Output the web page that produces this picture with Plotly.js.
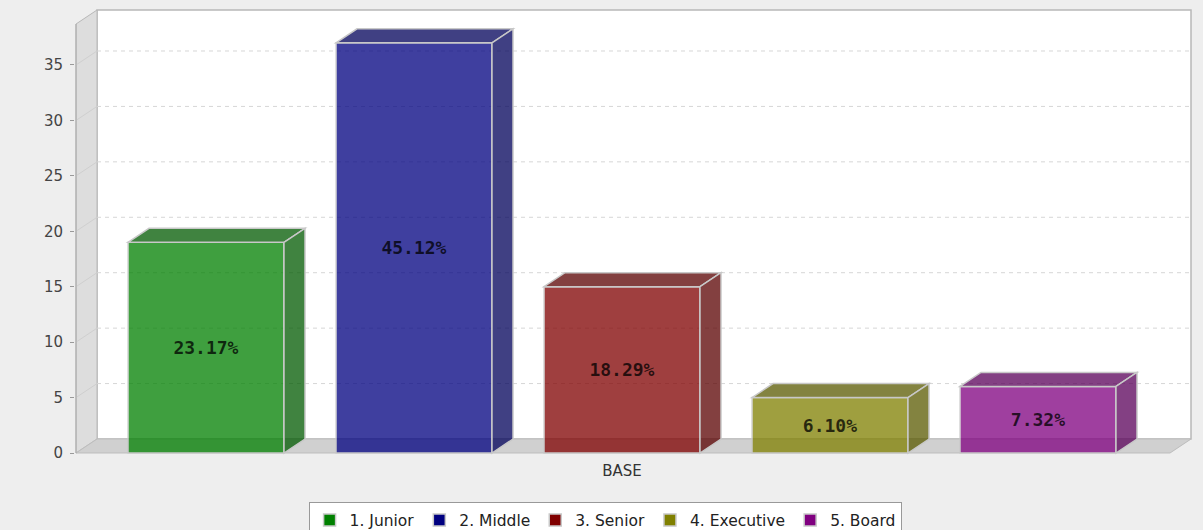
<!DOCTYPE html>
<html><head><meta charset="utf-8">
<script src="https://cdn.plot.ly/plotly-3.0.1.min.js"></script>
<style>html,body{margin:0;padding:0;background:#eeeeee;} #chart{width:1203px;height:530px;}</style>
</head><body><div id="chart"></div>
<script>
// ---- data ----
const categories = ['BASE'];
const seriesNames = ['1. Junior', '2. Middle', '3. Senior', '4. Executive', '5. Board'];
const seriesValues = [19, 37, 15, 5, 6];

// ---- styles ----
const baseColors = [[0,128,0],[0,0,128],[128,0,0],[128,128,0],[128,0,128]];
const alpha = 0.75;
const barWidth = 0.75;

// ---- geometry (axis units) ----
const pxX = 208, pxY = 11.086;
const plotL = 75, plotR = 1194, plotT = 6, plotB = 456;
const x0px = 206, y0px = 453;
const xLo = (plotL - x0px) / pxX, xHi = (plotR - x0px) / pxX;
const yLo = -(plotB - y0px) / pxY, yHi = (y0px - plotT) / pxY;
const xFL = (76 - x0px) / pxX;          // front-left of plot
const wallRight = (1191 - x0px) / pxX;  // back-right
const depthX = 21 / pxX, depthY = 14 / pxY;
const frontTop = (y0px - 24) / pxY;
const frontRight = wallRight - depthX;

const total = seriesValues.reduce((a, b) => a + b, 0);
const rgba = (c, a) => `rgba(${c[0]},${c[1]},${c[2]},${a})`;
const darker = c => c.map(v => Math.floor(v * 0.7));

const tickVals = [];
for (let v = 0; v <= frontTop; v += 5) tickVals.push(v);

const traces = seriesNames.map((name, i) => ({
  type: 'bar', name: name, x: [i], y: [seriesValues[i]], width: barWidth,
  marker: { color: rgba(baseColors[i], 1), opacity: alpha, line: { color: '#c8c8c8', width: 1.5 } },
  text: [(seriesValues[i] / total * 100).toFixed(2) + '%'],
  textposition: 'inside', insidetextanchor: 'middle', textangle: 0, constraintext: 'none',
  textfont: { family: 'DejaVu Sans Mono', size: 18, color: 'rgba(0,0,0,0.75)', weight: 'bold' },
  hoverinfo: 'none'
}));

const shapes = [];
// back wall
shapes.push({ type: 'rect', layer: 'below', xref: 'x', yref: 'y',
  x0: xFL + depthX, x1: wallRight, y0: depthY, y1: frontTop + depthY,
  fillcolor: '#ffffff', line: { color: '#b8b8b8', width: 1.5 } });
// left wall
shapes.push({ type: 'path', layer: 'below', xref: 'x', yref: 'y',
  path: `M${xFL},0 L${xFL + depthX},${depthY} L${xFL + depthX},${frontTop + depthY} L${xFL},${frontTop} Z`,
  fillcolor: '#dddddd', line: { color: '#b8b8b8', width: 1 } });
// floor
shapes.push({ type: 'path', layer: 'below', xref: 'x', yref: 'y',
  path: `M${xFL},0 L${frontRight},0 L${wallRight},${depthY} L${xFL + depthX},${depthY} Z`,
  fillcolor: '#d0d0d0', line: { color: '#bdbdbd', width: 1 } });
// gridlines
tickVals.filter(v => v > 0).forEach(v => {
  shapes.push({ type: 'line', layer: 'below', xref: 'x', yref: 'y',
    x0: xFL + depthX, x1: wallRight, y0: v + depthY, y1: v + depthY,
    line: { color: '#d6d6d6', width: 1, dash: '4px,4px' } });
  shapes.push({ type: 'line', layer: 'below', xref: 'x', yref: 'y',
    x0: xFL, x1: xFL + depthX, y0: v, y1: v + depthY,
    line: { color: '#cfcfcf', width: 1 } });
});
// y axis line
shapes.push({ type: 'line', layer: 'below', xref: 'x', yref: 'y',
  x0: xFL, x1: xFL, y0: 0, y1: frontTop, line: { color: '#aaaaaa', width: 1 } });

// 3D faces of bars
seriesValues.forEach((v, i) => {
  const xl = i - barWidth / 2, xr = i + barWidth / 2;
  const fc = rgba(darker(baseColors[i]), alpha);
  shapes.push({ type: 'path', layer: 'above', xref: 'x', yref: 'y',
    path: `M${xl},${v} L${xl + depthX},${v + depthY} L${xr + depthX},${v + depthY} L${xr},${v} Z`,
    fillcolor: fc, line: { color: '#c8c8c8', width: 1.5 } });
  shapes.push({ type: 'path', layer: 'above', xref: 'x', yref: 'y',
    path: `M${xr},0 L${xr + depthX},${depthY} L${xr + depthX},${v + depthY} L${xr},${v} Z`,
    fillcolor: fc, line: { color: '#c8c8c8', width: 1.5 } });
});

const layout = {
  width: 1203, height: 530,
  paper_bgcolor: '#eeeeee', plot_bgcolor: 'rgba(0,0,0,0)',
  margin: { l: plotL, r: 1203 - plotR, t: plotT, b: 530 - plotB, pad: 0 },
  font: { family: 'DejaVu Sans', size: 15, color: '#444444' },
  barmode: 'overlay',
  showlegend: true,
  xaxis: { range: [xLo, xHi], showgrid: false, zeroline: false, showline: false,
    tickmode: 'array', tickvals: [(seriesNames.length - 1) / 2], ticktext: categories,
    ticks: '', ticklabelstandoff: 4, tickfont: { family: 'DejaVu Sans', size: 15, color: '#333333' }, fixedrange: true },
  yaxis: { range: [yLo, yHi], showgrid: false, zeroline: false, showline: false,
    tickmode: 'array', tickvals: tickVals, ticks: 'outside', ticklen: 4, tickcolor: '#999999', tickwidth: 1,
    ticklabelstandoff: 4,
    tickfont: { family: 'DejaVu Sans', size: 15, color: '#444444' }, fixedrange: true },
  legend: { orientation: 'h', xref: 'container', yref: 'container', x: 0.503, y: 0.052,
    xanchor: 'center', yanchor: 'top', bgcolor: '#ffffff', bordercolor: '#999999', borderwidth: 1,
    font: { family: 'DejaVu Sans', size: 15.5, color: '#222222' }, itemclick: false, itemdoubleclick: false },
  shapes: shapes
};

Plotly.newPlot('chart', traces, layout, { staticPlot: true, displayModeBar: false });
</script>
</body></html>
